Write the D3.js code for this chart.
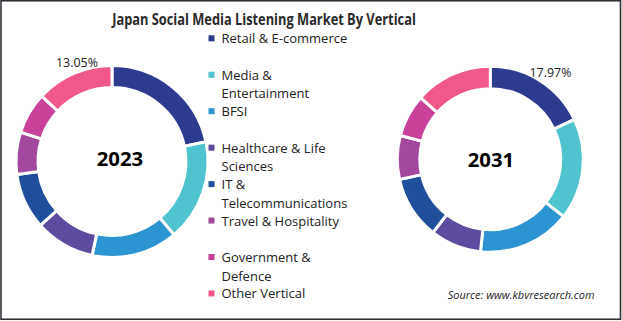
<!DOCTYPE html>
<html><head><meta charset="utf-8">
<script src="https://cdn.jsdelivr.net/npm/d3@7"></script>
<style>body{margin:0;background:#fff}svg{display:block}</style>
</head><body>
<svg id="c" width="622" height="321"></svg>
<script>
const categories = ["Retail & E-commerce","Media & Entertainment","BFSI","Healthcare & Life Sciences","IT & Telecommunications","Travel & Hospitality","Government & Defence","Other Vertical"];
const legendLines = [["Retail & E-commerce"],["Media &","Entertainment"],["BFSI"],["Healthcare & Life","Sciences"],["IT &","Telecommunications"],["Travel & Hospitality"],["Government &","Defence"],["Other Vertical"]];
const colors = ["#2d3a8e","#4fc4ce","#2d94d2","#5c4b9f","#1f4f9b","#a4479e","#c8419b","#ef5889"];
const values2023 = [21.7,17.1,14.5,10.1,9.4,7.1,7.0,13.05];
const values2031 = [17.97,17.6,16.1,8.9,10.9,7.6,7.4,13.5];
const years = ["2023","2031"];
const labels = ["13.05%","17.97%"];

const svg = d3.select("#c");
const FONT = "'Open Sans', sans-serif";

function fit(sel, w){
  let fs = parseFloat(sel.attr("font-size"));
  const len = sel.node().getComputedTextLength();
  sel.attr("font-size", (fs*w/len).toFixed(2));
  return sel;
}
// condense horizontally to a target width, keeping the font size
function squeeze(sel, w, anchorX){
  const len = sel.node().getComputedTextLength();
  const s = w/len;
  sel.attr("transform", `translate(${anchorX},0) scale(${s.toFixed(4)},1) translate(${-anchorX},0)`);
  return s;
}

// border
svg.append("rect").attr("x",1).attr("y",0.75).attr("width",619.5).attr("height",318.5)
  .attr("fill","none").attr("stroke","#2b3036").attr("stroke-width",1.6);

// title
const title = svg.append("text").attr("x",264).attr("y",25.5).attr("text-anchor","middle")
  .attr("font-family",FONT).attr("font-weight","bold").attr("font-size",16.5).attr("fill","#2a2a2a")
  .text("Japan Social Media Listening Market By Vertical");
squeeze(title, 304, 264);

const pie = d3.pie().sort(null).value(d=>d);
const donuts = [
  {vals: values2023, cx:112, cy:161.5, r:96, ri:74, year:years[0], lab:labels[0], lx:77, ly:62, yx:120, yy:158},
  {vals: values2031, cx:490.3, cy:159.2, r:93, ri:70.5, year:years[1], lab:labels[1], lx:550.5, ly:72, yx:491, yy:159}
];
donuts.forEach(d=>{
  const g = svg.append("g").attr("transform",`translate(${d.cx},${d.cy})`);
  const arc = d3.arc().innerRadius(d.ri).outerRadius(d.r);
  g.selectAll("path").data(pie(d.vals)).join("path")
    .attr("d",arc).attr("fill",(p,i)=>colors[i]).attr("stroke","#fff").attr("stroke-width",3);
  fit(svg.append("text").attr("x",d.yx).attr("y",d.yy).attr("text-anchor","middle").attr("dominant-baseline","central")
    .attr("font-family",FONT).attr("font-weight","bold").attr("font-size",22).attr("fill","#000").text(d.year), 46.5);
  fit(svg.append("text").attr("x",d.lx).attr("y",d.ly).attr("text-anchor","middle").attr("dominant-baseline","central")
    .attr("font-family",FONT).attr("font-size",12).attr("fill","#222").text(d.lab), 42);
});

// legend
const ly0 = 38.3, lstep = 36.45, lineH = 18.6, LX = 221.5;
const legTexts = [];
let sc = 1;
legendLines.forEach((lines,i)=>{
  const y = ly0 + i*lstep;
  svg.append("rect").attr("x",208.5).attr("y",y-3).attr("width",6).attr("height",6).attr("fill",colors[i]);
  lines.forEach((t,j)=>{
    const tx = svg.append("text").attr("x",LX).attr("y",y+j*lineH).attr("dominant-baseline","central")
      .attr("font-family",FONT).attr("font-size",13).attr("fill","#222").text(t);
    legTexts.push(tx);
    if(t==="Telecommunications"){ sc = tx.node().getComputedTextLength(); }
  });
});
const s = 126/sc;
legTexts.forEach(tx=>tx.attr("transform",`translate(${LX},0) scale(${s.toFixed(4)},1) translate(${-LX},0)`));

// source
fit(svg.append("text").attr("x",447.7).attr("y",294.3).attr("dominant-baseline","central")
  .attr("font-family",FONT).attr("font-style","italic").attr("font-size",11).attr("fill","#222")
  .text("Source: www.kbvresearch.com"), 147);
</script>
</body></html>
